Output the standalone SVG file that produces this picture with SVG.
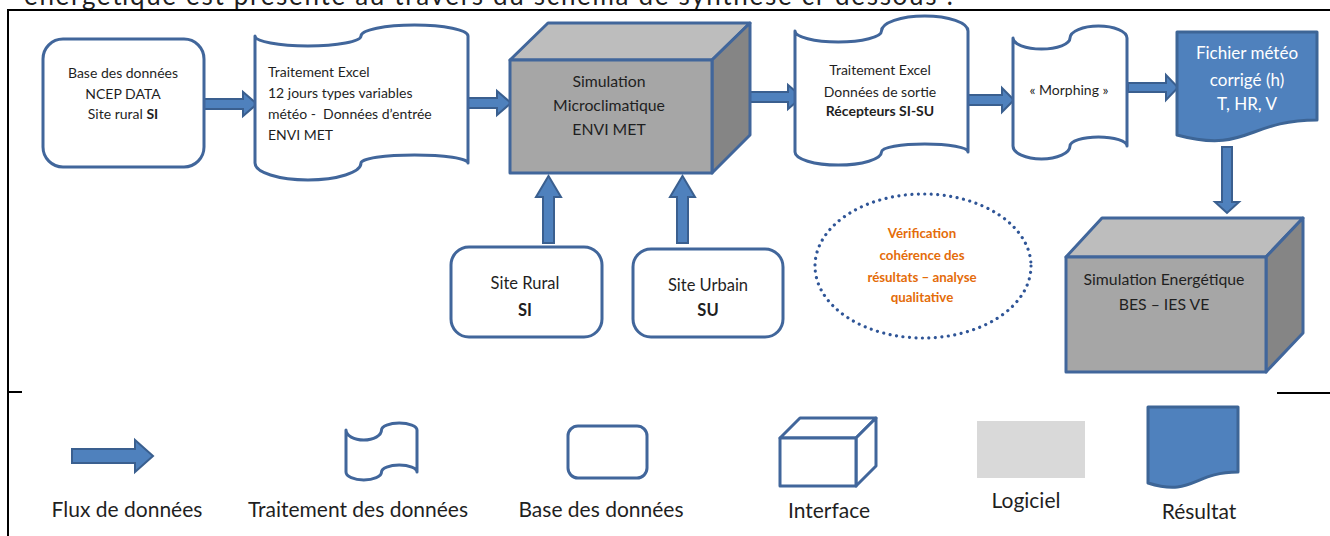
<svg xmlns="http://www.w3.org/2000/svg" width="1330" height="536" viewBox="0 0 1330 536">
<style>
.t{font-family:Lato,"Liberation Sans",sans-serif;fill:#1f1f1f;}
.n{font-size:14px;}
.m{font-size:15.8px;}
.lg{font-size:21px;}
.c{text-anchor:middle;}
.b{font-weight:bold;}
.o{fill:#e46c0a;font-weight:bold;font-size:13.3px;}
.w{fill:#ffffff;font-size:17px;}
.sh{fill:#ffffff;stroke:#41669b;stroke-width:3;stroke-linejoin:round;}
.doc{fill:#4f81bd;stroke:#3d6596;stroke-width:3;stroke-linejoin:round;}
.arr{fill:#4f81bd;stroke:#3a5f8f;stroke-width:2;stroke-linejoin:miter;}
.cf{fill:#a6a6a6;stroke:#41669b;stroke-width:3;stroke-linejoin:round;}
.ct{fill:#bdbdbd;stroke:#41669b;stroke-width:3;stroke-linejoin:round;}
.cr{fill:#858585;stroke:#41669b;stroke-width:3;stroke-linejoin:round;}
.frame{stroke:#000000;stroke-width:2;fill:none;}
</style>

<g id="page">
<text class="t" x="24" y="5" font-size="26" textLength="929" lengthAdjust="spacing">énergétique est présenté au travers du schéma de synthèse ci-dessous :</text>
<path class="frame" d="M8,536 L8,10 L1330,10"/>
<path class="frame" d="M8,392 L22,392"/>
<path class="frame" d="M1277,393 L1330,393"/>
</g>

<g id="connectors">
<polygon class="arr" points="204,99 243,99 243,92 257,104 243,116 243,109 204,109"/>
<polygon class="arr" points="468,98 497,98 497,91 511,103 497,115 497,108 468,108"/>
<polygon class="arr" points="750,92 788,92 788,85 802,97 788,109 788,102 750,102"/>
<polygon class="arr" points="966,95 1002,95 1002,88 1014,100 1002,112 1002,105 966,105"/>
<polygon class="arr" points="1128,83 1166,83 1166,75 1178,87.5 1166,100 1166,92 1128,92"/>
<polygon class="arr" points="1222,147 1232,147 1232,202 1239,202 1227,213 1215,202 1222,202"/>
<polygon class="arr" points="543,243 554,243 554,197 561,197 548.5,176 536,197 543,197"/>
<polygon class="arr" points="677,243 688,243 688,197 695,197 682.5,176 670,197 677,197"/>
</g>

<g id="base-ncep">
<rect class="sh" x="43" y="39" width="161" height="128" rx="20"/>
<text class="t n c" x="123" y="78">Base des données</text>
<text class="t n c" x="123" y="99">NCEP DATA</text>
<text class="t n c" x="123" y="119">Site rural <tspan class="b">SI</tspan></text>
</g>

<g id="traitement-entree">
<path class="sh" d="M255,36 A53,10 0 0,0 361,36 A53.5,11 0 0,1 468,36 L468,163 A53.5,8 0 0,0 361,163 A53,17 0 0,1 255,163 Z"/>
<text class="t n" x="268" y="77">Traitement Excel</text>
<text class="t n" x="268" y="98">12 jours types variables</text>
<text class="t n" x="268" y="119" style="white-space:pre">météo -  Données d’entrée</text>
<text class="t n" x="268" y="140">ENVI MET</text>
</g>

<g id="envimet">
<polygon class="ct" points="510,60 548,23 750,23 712,60"/>
<polygon class="cr" points="712,60 750,23 750,135 712,173"/>
<rect class="cf" x="510" y="60" width="202" height="113"/>
<text class="t m c" x="609" y="87">Simulation</text>
<text class="t m c" x="609" y="111">Microclimatique</text>
<text class="t m c" x="609" y="135">ENVI MET</text>
</g>

<g id="traitement-sortie">
<path class="sh" d="M795,31 A43,11 0 0,0 881.5,31 A43.25,15 0 0,1 968,31 L968,152 A43.25,8 0 0,0 881.5,152 A43.25,13 0 0,1 795,152 Z"/>
<text class="t n c" x="880" y="75">Traitement Excel</text>
<text class="t n c" x="880" y="97">Données de sortie</text>
<text class="t n c b" x="880" y="116">Récepteurs SI-SU</text>
</g>

<g id="morphing">
<path class="sh" d="M1013,38 A28.5,11 0 0,0 1070,38 A28.5,12 0 0,1 1127,38 L1127,146 A28.5,9 0 0,0 1070,146 A28.5,13 0 0,1 1013,146 Z"/>
<text class="t n c" x="1069" y="95">« Morphing »</text>
</g>

<g id="fichier-meteo">
<path class="doc" d="M1177,32 L1317,32 L1317,120 C1247,120 1247,154 1177,135 Z"/>
<text class="t w c" x="1247" y="59">Fichier météo</text>
<text class="t w c" x="1247" y="86">corrigé (h)</text>
<text class="t w c" x="1247" y="110">T, HR, V</text>
</g>

<g id="site-rural">
<rect class="sh" x="451" y="247" width="151" height="90" rx="18"/>
<text class="t c" font-size="16.5" x="525" y="289">Site Rural</text>
<text class="t c b" font-size="16.5" x="525" y="316">SI</text>
</g>

<g id="site-urbain">
<rect class="sh" x="633" y="249" width="150" height="88" rx="18"/>
<text class="t c" font-size="16.5" x="708" y="291">Site Urbain</text>
<text class="t c b" font-size="16.5" x="708" y="316">SU</text>
</g>

<g id="verification">
<ellipse cx="923" cy="266" rx="108" ry="72" fill="none" stroke="#2f5597" stroke-width="3.2" stroke-linecap="round" stroke-dasharray="0.01 6.5"/>
<text class="t o c" x="922" y="238">Vérification</text>
<text class="t o c" x="922" y="260">cohérence des</text>
<text class="t o c" x="922" y="282">résultats – analyse</text>
<text class="t o c" x="922" y="302">qualitative</text>
</g>

<g id="simulation-energetique">
<polygon class="ct" points="1066,257 1102,218 1303,218 1266,257"/>
<polygon class="cr" points="1266,257 1303,218 1303,333 1266,372"/>
<rect class="cf" x="1066" y="257" width="200" height="115"/>
<text class="t m c" x="1164" y="285">Simulation Energétique</text>
<text class="t m c" x="1164" y="310">BES – IES VE</text>
</g>

<g id="legend-flux">
<polygon class="arr" points="72,449 135,449 135,440 153,456 135,472 135,463 72,463"/>
<text class="t lg c" x="127" y="517">Flux de données</text>
</g>

<g id="legend-traitement">
<path class="sh" d="M346,430 A17.75,10 0 0,0 381.5,430 A17.75,7 0 0,1 417,430 L417,472 A17.75,7 0 0,0 381.5,472 A17.75,8 0 0,1 346,472 Z"/>
<text class="t lg c" x="358" y="517">Traitement des données</text>
</g>

<g id="legend-base">
<rect class="sh" x="568" y="426" width="79" height="52" rx="10"/>
<text class="t lg c" x="601" y="517">Base des données</text>
</g>

<g id="legend-interface">
<polygon class="sh" points="780,438 800,418 876,418 856,438"/>
<polygon class="sh" points="856,438 876,418 876,466 856,486"/>
<rect class="sh" x="780" y="438" width="76" height="48"/>
<text class="t lg c" x="829" y="518">Interface</text>
</g>

<g id="legend-logiciel">
<rect x="977" y="421" width="108" height="57" fill="#d9d9d9"/>
<text class="t lg c" x="1026" y="508">Logiciel</text>
</g>

<g id="legend-resultat">
<path class="doc" d="M1148,407 L1238,407 L1238,472 C1193,472 1193,497 1148,483 Z"/>
<text class="t lg c" x="1199" y="519">Résultat</text>
</g>
</svg>
